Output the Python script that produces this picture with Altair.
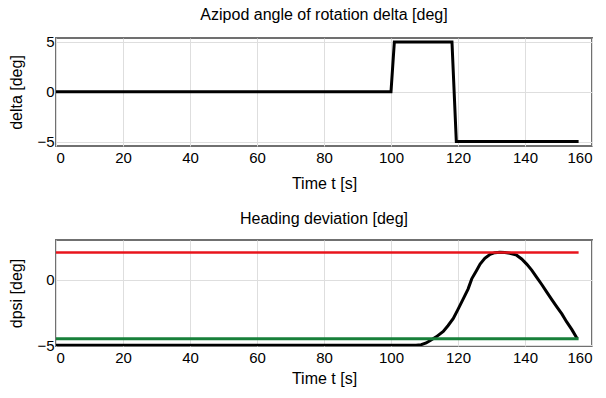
import altair as alt
import pandas as pd

# Top panel: azipod angle
t_delta = [0, 100, 101, 118.2, 119.5, 156]
v_delta = [0, 0, 5, 5, -5, -5]

# Bottom panel: heading deviation
t_psi = [0, 105, 107.5, 109, 110.5, 111.6, 113.5, 115.6, 117, 118.6, 120, 121.6, 123, 124.1,
         125.5, 126.6, 128, 129.6, 131, 132.5, 134, 135.5, 137.5, 139, 140.5, 142, 143.5,
         145, 146.5, 148, 149.5, 151, 152.4, 154, 155.6]
v_psi = [-5, -5, -5, -4.95, -4.82, -4.65, -4.35, -3.94, -3.5, -2.94, -2.25, -1.43, -0.7, 0.08,
         0.7, 1.21, 1.65, 1.96, 2.08, 2.12, 2.1, 2.04, 1.89, 1.6, 1.21, 0.75, 0.2,
         -0.35, -0.93, -1.5, -2.06, -2.6, -3.19, -3.8, -4.5]
t_lim = [0, 156]
upper_lim = [2.1, 2.1]
lower_lim = [-4.5, -4.5]

x_ticks = [0, 20, 40, 60, 80, 100, 120, 140, 160]

df_delta = pd.DataFrame({"t": t_delta, "v": v_delta, "i": range(len(t_delta))})
df_psi = pd.DataFrame({"t": t_psi, "v": v_psi, "i": range(len(t_psi))})
df_up = pd.DataFrame({"t": t_lim, "v": upper_lim})
df_lo = pd.DataFrame({"t": t_lim, "v": lower_lim})

FONT = "Liberation Sans"

def xenc(tp):
    return alt.X("t:Q", scale=alt.Scale(domain=[0, 160], nice=False),
                 axis=alt.Axis(values=x_ticks, title="Time t [s]", labelPadding=4,
                               titlePadding=tp))

top = alt.Chart(df_delta).mark_line(color="black", strokeWidth=3, clip=True).encode(
    x=xenc(10),
    y=alt.Y("v:Q", scale=alt.Scale(domain=[-5.45, 5.4], nice=False),
            axis=alt.Axis(values=[-5, 0, 5], title="delta [deg]", titlePadding=12)),
    order="i:Q",
).properties(width=536, height=108,
             title=alt.TitleParams("Azipod angle of rotation delta [deg]", offset=12))

base_b = alt.Chart(df_psi)
curve = base_b.mark_line(color="black", strokeWidth=3, clip=True).encode(
    x=xenc(5),
    y=alt.Y("v:Q", scale=alt.Scale(domain=[-5.05, 3.05], nice=False),
            axis=alt.Axis(values=[-5, 0], title="dpsi [deg]", titlePadding=12)),
    order="i:Q",
)
red = alt.Chart(df_up).mark_line(color="#e8141c", strokeWidth=2.5).encode(x="t:Q", y="v:Q")
green = alt.Chart(df_lo).mark_line(color="#17803a", strokeWidth=3).encode(x="t:Q", y="v:Q")

bottom = alt.layer(curve, red, green).properties(
    width=536, height=106,
    title=alt.TitleParams("Heading deviation [deg]", offset=13))

chart = alt.vconcat(top, bottom, spacing=18).configure(
    font=FONT
).configure_view(
    stroke="#707070", strokeWidth=2
).configure_axis(
    grid=True, gridColor="#dedede", gridWidth=1, domain=False, ticks=False,
    labelFont=FONT, labelFontSize=15, labelColor="black",
    titleFont=FONT, titleFontSize=16, titleFontWeight="normal", titleColor="black",
).configure_title(
    font=FONT, fontSize=16, fontWeight="normal", color="black", anchor="middle"
).properties(padding={"left": 7, "top": 5, "right": 5, "bottom": 5})

chart.save("out.html", embed_options={"renderer": "svg", "actions": False})
